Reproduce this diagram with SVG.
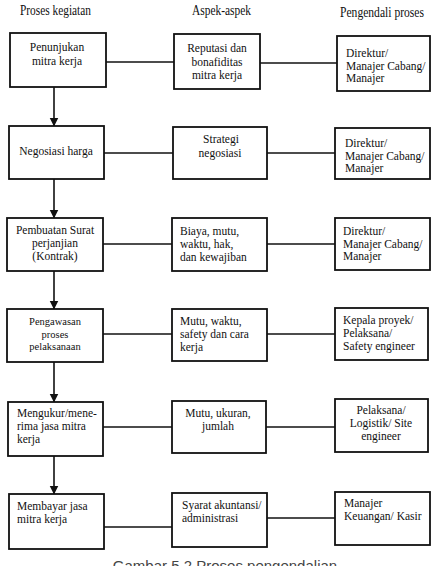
<svg xmlns="http://www.w3.org/2000/svg" width="435" height="566" viewBox="0 0 435 566">
<defs>
<style>
.box{fill:#fff;stroke:#111;stroke-width:1.8}
.ln{stroke:#111;stroke-width:1.6;fill:none}
.t{font-family:'Liberation Serif','DejaVu Serif',serif;font-size:11.5px;fill:#111}
.c{text-anchor:middle}
.h{font-size:15px}
.s{font-size:10.5px}
.cap{font-family:'Liberation Sans',Arial,sans-serif;font-size:15px;fill:#444}
</style>
<marker id="ah" markerWidth="9" markerHeight="10" refX="8.5" refY="4.5" orient="auto" markerUnits="userSpaceOnUse">
<path d="M0,0 L9,4.5 L0,9 Z" fill="#111"/>
</marker>
</defs>
<rect width="435" height="566" fill="#fff"/>
<g id="headers" class="t" font-family="Liberation Serif, serif">
<text x="20" y="15" class="h" textLength="71" lengthAdjust="spacingAndGlyphs">Proses kegiatan</text>
<text x="192" y="15" class="h" textLength="59" lengthAdjust="spacingAndGlyphs">Aspek-aspek</text>
<text x="340" y="17" class="h" textLength="84" lengthAdjust="spacingAndGlyphs">Pengendali proses</text>
</g>
<g id="connectors">
<line class="ln" x1="106" y1="62" x2="174" y2="62"/>
<line class="ln" x1="260" y1="63" x2="337" y2="63"/>
<line class="ln" x1="104" y1="153" x2="173" y2="153"/>
<line class="ln" x1="267" y1="153" x2="335" y2="153"/>
<line class="ln" x1="103" y1="244" x2="172" y2="244"/>
<line class="ln" x1="267" y1="244" x2="335" y2="244"/>
<line class="ln" x1="103" y1="334" x2="172" y2="334"/>
<line class="ln" x1="267" y1="334" x2="335" y2="334"/>
<line class="ln" x1="103" y1="427" x2="172" y2="427"/>
<line class="ln" x1="266" y1="427" x2="335" y2="427"/>
<line class="ln" x1="104" y1="527" x2="172" y2="527"/>
<line class="ln" x1="267" y1="518" x2="335" y2="518"/>
<line class="ln" x1="54" y1="87" x2="54" y2="126" marker-end="url(#ah)"/>
<line class="ln" x1="54" y1="179" x2="54" y2="218" marker-end="url(#ah)"/>
<line class="ln" x1="54" y1="271" x2="54" y2="309" marker-end="url(#ah)"/>
<line class="ln" x1="54" y1="362" x2="54" y2="402" marker-end="url(#ah)"/>
<line class="ln" x1="54" y1="456" x2="54" y2="494" marker-end="url(#ah)"/>
</g>
<g class="t" font-family="Liberation Serif, serif">
<g id="r1a"><rect class="box" x="10" y="33" width="96" height="54"/>
<text class="c" x="57" y="51">Penunjukan</text><text class="c" x="57" y="65">mitra kerja</text></g>
<g id="r1b"><rect class="box" x="174" y="34" width="86" height="55"/>
<text class="c" x="217" y="52">Reputasi dan</text><text class="c" x="217" y="66">bonafiditas</text><text class="c" x="217" y="79">mitra kerja</text></g>
<g id="r1c"><rect class="box" x="337" y="36" width="93" height="55"/>
<text x="346" y="57">Direktur/</text><text x="346" y="69.5">Manajer Cabang/</text><text x="346" y="82">Manajer</text></g>

<g id="r2a"><rect class="box" x="9" y="126" width="95" height="53"/>
<text class="c" x="56" y="155">Negosiasi harga</text></g>
<g id="r2b"><rect class="box" x="173" y="127" width="94" height="52"/>
<text class="c" x="221" y="143">Strategi</text><text class="c" x="220" y="157">negosiasi</text></g>
<g id="r2c"><rect class="box" x="335" y="128" width="95" height="51"/>
<text x="345" y="147">Direktur/</text><text x="345" y="159.5">Manajer Cabang/</text><text x="345" y="172">Manajer</text></g>

<g id="r3a"><rect class="box" x="7" y="218" width="96" height="53"/>
<text class="c" x="55" y="234">Pembuatan Surat</text><text class="c" x="55" y="247">perjanjian</text><text class="c" x="55" y="260">(Kontrak)</text></g>
<g id="r3b"><rect class="box" x="172" y="218" width="95" height="53"/>
<text x="180" y="235">Biaya, mutu,</text><text x="180" y="248">waktu, hak,</text><text x="180" y="260.5">dan kewajiban</text></g>
<g id="r3c"><rect class="box" x="335" y="218" width="95" height="52"/>
<text x="343" y="235">Direktur/</text><text x="343" y="247.5">Manajer Cabang/</text><text x="343" y="260">Manajer</text></g>

<g id="r4a"><rect class="box" x="7" y="309" width="96" height="53"/>
<text class="c s" x="55" y="325">Pengawasan</text><text class="c s" x="55" y="337.5">proses</text><text class="c s" x="55" y="350">pelaksanaan</text></g>
<g id="r4b"><rect class="box" x="172" y="309" width="95" height="52"/>
<text x="180" y="325">Mutu, waktu,</text><text x="180" y="338">safety dan cara</text><text x="180" y="350.5">kerja</text></g>
<g id="r4c"><rect class="box" x="335" y="308" width="93" height="52"/>
<text x="343" y="324">Kepala proyek/</text><text x="343" y="337">Pelaksana/</text><text x="343" y="350">Safety engineer</text></g>

<g id="r5a"><rect class="box" x="8" y="402" width="95" height="54"/>
<text x="17" y="417">Mengukur/mene-</text><text x="17" y="430">rima jasa mitra</text><text x="17" y="443">kerja</text></g>
<g id="r5b"><rect class="box" x="172" y="401" width="94" height="52"/>
<text class="c" x="218" y="417">Mutu, ukuran,</text><text class="c" x="218" y="430">jumlah</text></g>
<g id="r5c"><rect class="box" x="335" y="399" width="93" height="53"/>
<text class="c" x="381" y="414">Pelaksana/</text><text class="c" x="381" y="427">Logistik/ Site</text><text class="c" x="381" y="440">engineer</text></g>

<g id="r6a"><rect class="box" x="9" y="494" width="95" height="55"/>
<text x="17" y="510">Membayar jasa</text><text x="17" y="523">mitra kerja</text></g>
<g id="r6b"><rect class="box" x="172" y="493" width="95" height="54"/>
<text x="182" y="509">Syarat akuntansi/</text><text x="182" y="522">administrasi</text></g>
<g id="r6c"><rect class="box" x="335" y="492" width="95" height="53"/>
<text x="344" y="507">Manajer</text><text x="344" y="520">Keuangan/ Kasir</text></g>
</g>
<text class="cap" x="225" y="571" text-anchor="middle">Gambar 5.2 Proses pengendalian</text>
</svg>
